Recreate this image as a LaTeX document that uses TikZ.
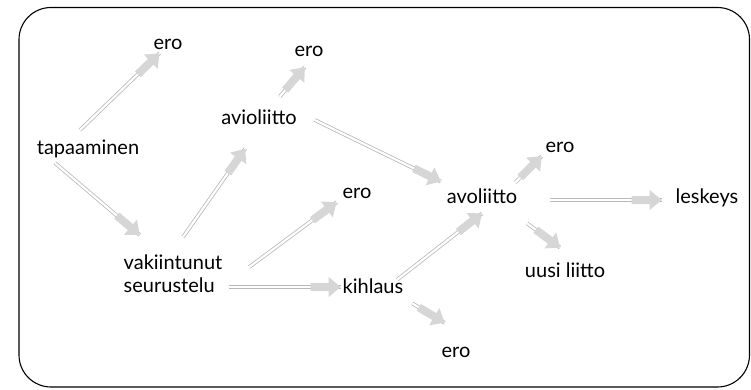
\documentclass[tikz,border=0pt]{standalone}
\usepackage{fontspec}
\setmainfont{Lato}
\usetikzlibrary{decorations.markings}
\tikzset{
  lbl/.style={font=\fontsize{20}{23}\selectfont, inner sep=1pt, outer sep=0pt, align=left},
  conn/.style={draw=gray!55, line width=0.8pt, double=white, double distance=2.2pt,
    postaction={decorate, decoration={markings, mark=at position 1 with {
      \fill[gray!32] (-30pt,-4pt) -- (-12pt,-4pt) -- (-12pt,-10pt) -- (0pt,0pt)
        -- (-12pt,10pt) -- (-12pt,4pt) -- (-30pt,4pt) -- cycle;}}}},
  frame/.style={draw=black, line width=1.1pt, rounded corners=32pt}
}
\begin{document}
\begin{tikzpicture}[x=1pt,y=-1pt]
\useasboundingbox (0,0) rectangle (751,390);
\draw[frame] (19,7.5) rectangle (749.5,387);

\node[lbl] (ero1) at (168,44) {ero};
\node[lbl] (ero2) at (309,51) {ero};
\node[lbl] (avi) at (259,117) {avioliitto};
\node[lbl] (tap) at (88,149) {tapaaminen};
\node[lbl] (ero3) at (357,193) {ero};
\node[lbl] (ero4) at (560,147) {ero};
\node[lbl] (avo) at (482,196) {avoliitto};
\node[lbl] (les) at (707,198) {leskeys};
\node[lbl] (uusi) at (565,270) {uusi liitto};
\node[lbl] (kih) at (373,286) {kihlaus};
\node[lbl] (ero5) at (456,352) {ero};
\node[lbl] (vs) at (173,274) {vakiintunut\\seurustelu};

\draw[conn] ([shift={(-8,-9)}]tap.north) -- ([shift={(7,3)}]ero1.south west);
\draw[conn] ([shift={(-33,4)}]tap.south) -- ([shift={(17,-19)}]vs.north west);
\draw[conn] ([shift={(10,-17)}]vs.north) -- ([shift={(25,23)}]avi.south west);
\draw[conn] ([shift={(17,3)}]avi.east) -- ([shift={(-5,-6)}]avo.north west);
\draw[conn] ([shift={(-18,-12)}]avi.north east) -- ([shift={(11,10)}]ero2.south west);
\draw[conn] ([shift={(26,-7)}]vs.east) -- ([shift={(-5,3)}]ero3.south west);
\draw[conn] ([shift={(6,13)}]vs.east) -- ([shift={(-1,1)}]kih.west);
\draw[conn] ([shift={(-7,2)}]kih.north east) -- ([shift={(0,9)}]avo.south);
\draw[conn] ([shift={(8,9)}]kih.south east) -- ([shift={(4,-23)}]ero5.north west);
\draw[conn] ([shift={(-3,-5)}]avo.north east) -- ([shift={(-3,3)}]ero4.south west);
\draw[conn] ([shift={(32,4)}]avo.east) -- ([shift={(-13,2)}]les.west);
\draw[conn] ([shift={(9,19)}]avo.south east) -- ([shift={(-5,-14)}]uusi.north);
\end{tikzpicture}
\end{document}
